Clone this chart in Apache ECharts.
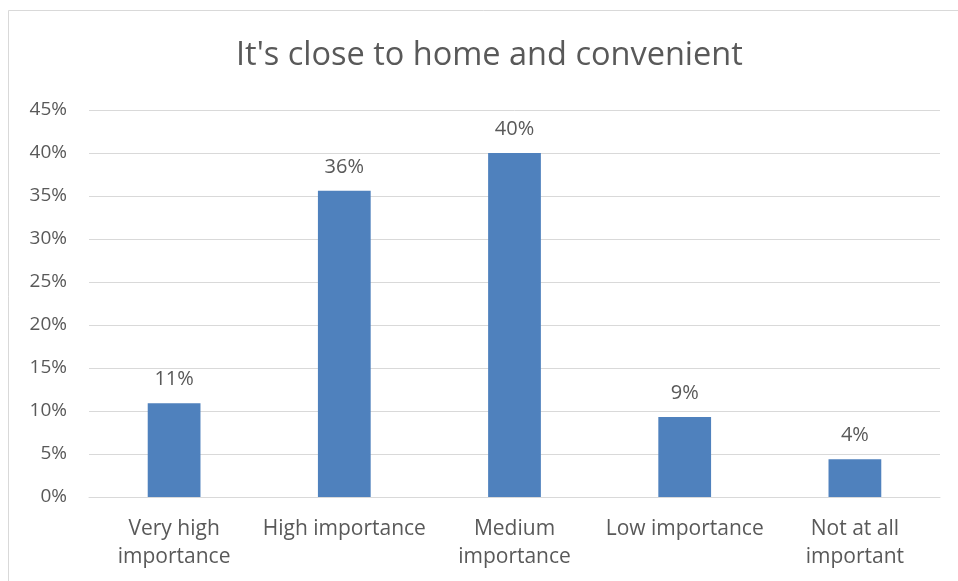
<!DOCTYPE html>
<html>
<head>
<meta charset="utf-8">
<script src="https://cdn.jsdelivr.net/npm/echarts@6/dist/echarts.min.js"></script>
<style>
html,body{margin:0;padding:0;background:#fff;}
#chart{width:958px;height:581px;}
</style>
</head>
<body>
<div id="chart"></div>
<script>
const titleText = "It's close to home and convenient";
const categories = ["Very high\nimportance", "High importance", "Medium\nimportance", "Low importance", "Not at all\nimportant"];
const values = [10.9, 35.6, 40.0, 9.3, 4.4];
const yTicks = {min: 0, max: 45, interval: 5};

const FONT = "Open Sans";
const TXT = "#595959";

const chart = echarts.init(document.getElementById('chart'), null, {renderer: 'canvas'});
chart.setOption({
  animation: false,
  backgroundColor: '#fff',
  title: {
    text: titleText,
    left: 231,
    top: 34,
    textStyle: {fontFamily: FONT, fontSize: 32.5, fontWeight: 'normal', color: TXT}
  },
  graphic: [{
    type: 'rect',
    shape: {x: 8.5, y: 10.5, width: 2000, height: 2000},
    style: {fill: 'none', stroke: '#d9d9d9', lineWidth: 1},
    silent: true
  }],
  grid: {left: 89, right: 18, top: 110, bottom: 84, containLabel: false},
  xAxis: {
    type: 'category',
    data: categories,
    axisLine: {show: true, lineStyle: {color: '#d9d9d9', width: 1}},
    axisTick: {show: false},
    axisLabel: {fontFamily: FONT, fontSize: 21, color: TXT, margin: 18, lineHeight: 28, interval: 0}
  },
  yAxis: {
    type: 'value',
    min: yTicks.min, max: yTicks.max, interval: yTicks.interval,
    axisLine: {show: false},
    axisTick: {show: false},
    splitLine: {lineStyle: {color: '#d9d9d9', width: 1}},
    axisLabel: {fontFamily: FONT, fontSize: 19, color: TXT, margin: 22, formatter: v => v + '%'}
  },
  series: [{
    type: 'bar',
    data: values,
    barWidth: '31%',
    itemStyle: {color: '#4f81bd'},
    label: {
      show: true, position: 'top', distance: 14,
      fontFamily: FONT, fontSize: 20, color: TXT,
      formatter: p => Math.round(p.value) + '%'
    }
  }]
});
</script>
</body>
</html>
